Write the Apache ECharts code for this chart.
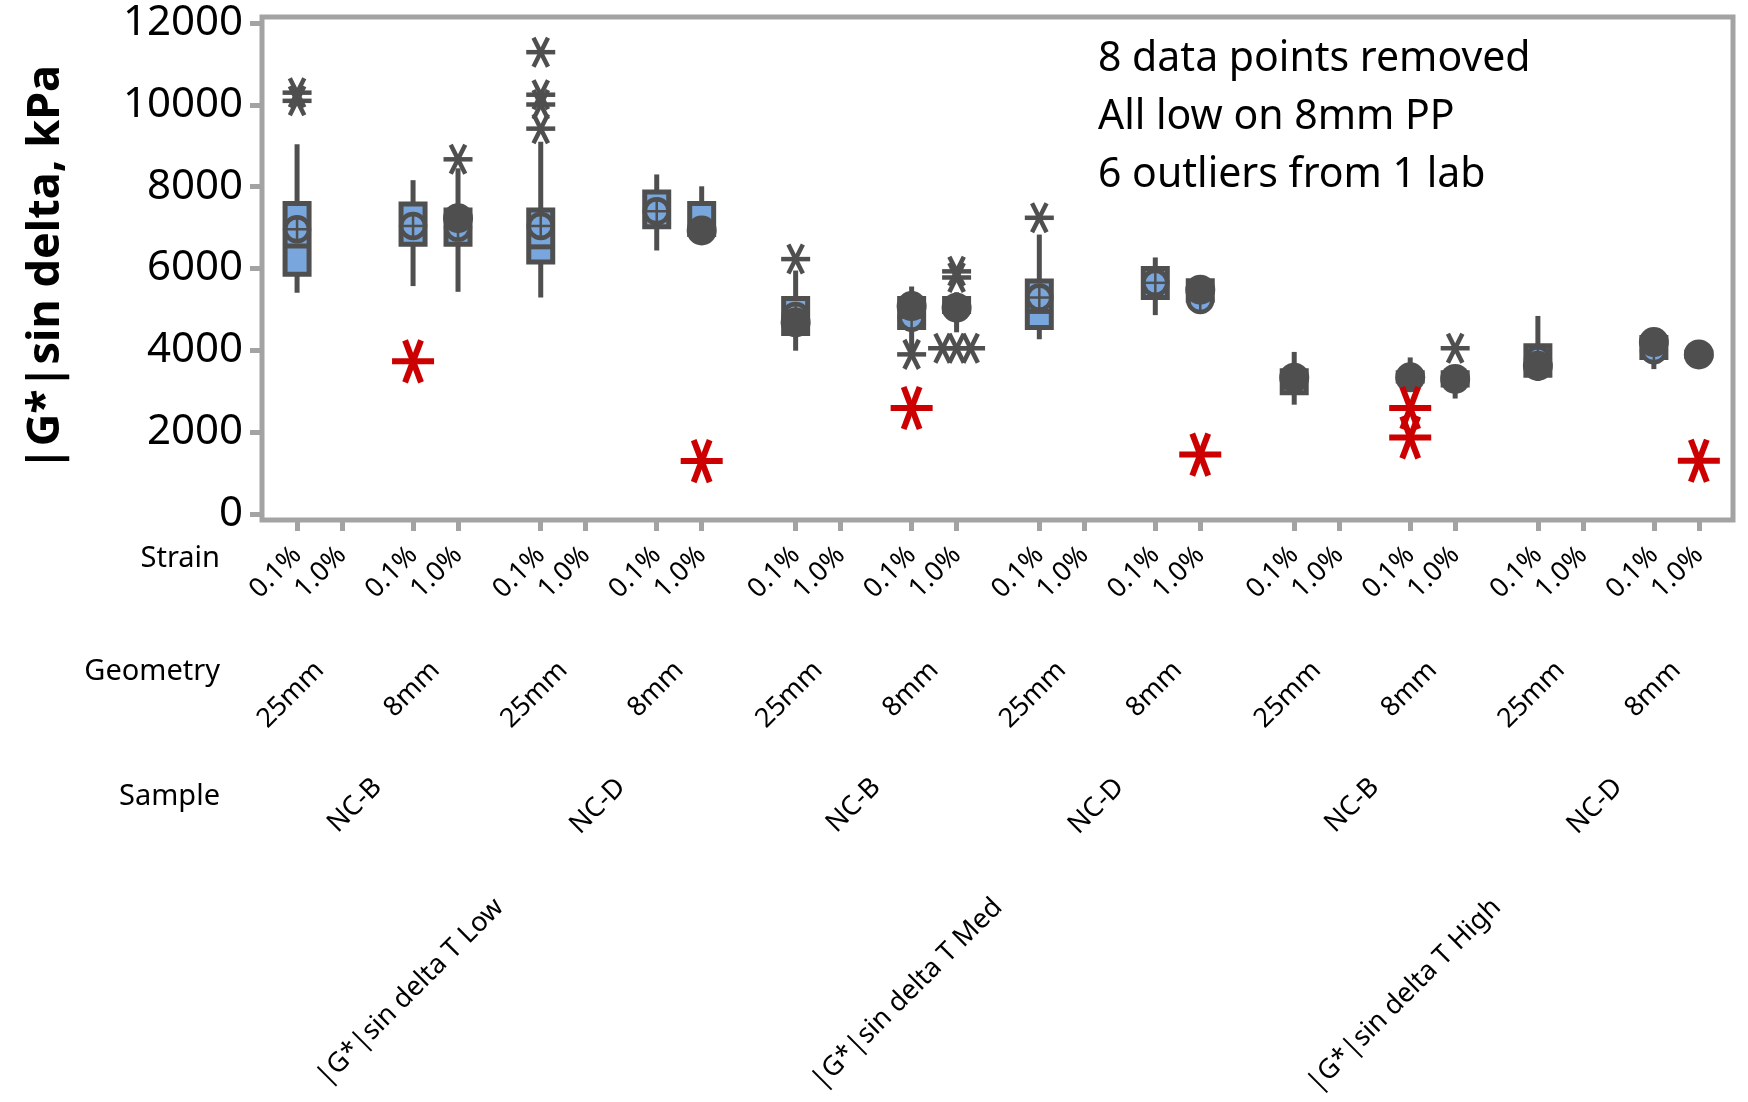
<!DOCTYPE html>
<html>
<head>
<meta charset="utf-8">
<script src="https://cdn.jsdelivr.net/npm/echarts@6/dist/echarts.min.js"></script>
<style>
  html, body { margin: 0; padding: 0; background: #ffffff; }
  #chart { width: 1748px; height: 1102px; }
</style>
</head>
<body>
<div id="chart"></div>
<script>
// ---- factor levels (outermost first) ----
const temperatures = ['|G*|sin delta T Low', '|G*|sin delta T Med', '|G*|sin delta T High'];
const samples = ['NC-B', 'NC-D'];
const geometries = ['25mm', '8mm'];
const strains = ['0.1%', '1.0%'];

const yTicks = [0, 2000, 4000, 6000, 8000, 10000, 12000];

// Box statistics per cell: [low whisker, Q1, median, Q3, high whisker]; null = no data.
// Cell order: temperature > sample > geometry > strain.
const boxStats = [
  [5410, 5860, 6550, 7590, 9040],   // T Low  NC-B 25mm 0.1%
  null,
  [5570, 6590, 7040, 7580, 8160],
  [5430, 6590, 7000, 7430, 8450],
  [5290, 6160, 6530, 7430, 9100],   // T Low  NC-D 25mm 0.1%
  null,
  [6440, 7020, 7400, 7870, 8300],
  [6830, 6830, 6930, 7590, 8010],
  [3990, 4410, 4840, 5265, 5950],   // T Med  NC-B 25mm 0.1%
  null,
  [3950, 4560, 4800, 5265, 5560],
  [4440, 4950, 5100, 5265, 5420],
  [4270, 4560, 4950, 5695, 6830],   // T Med  NC-D 25mm 0.1%
  null,
  [4860, 5290, 5650, 6000, 6270],
  [5230, 5230, 5230, 5700, 5830],
  [2670, 2960, 3300, 3500, 3960],   // T High NC-B 25mm 0.1%
  null,
  [3250, 3250, 3340, 3450, 3825],
  [2820, 3150, 3300, 3450, 3600],
  [3250, 3390, 3550, 4110, 4840],   // T High NC-D 25mm 0.1%
  null,
  [3540, 3825, 4050, 4310, 4310],
  [3850, 3850, 3900, 3950, 3950]
];

// Cell means [cell index, value]
const cellMeans = [
  [0, 6960], [2, 7040], [3, 7000], [4, 7040], [6, 7400], [8, 4840],
  [10, 4800], [12, 5290], [14, 5650], [15, 5230], [20, 3780], [22, 4000]
];

// Clusters of overlapping individual results [cell index, value]
const pointClusters = [
  [3, 7230], [7, 6930], [8, 4680], [10, 5080], [11, 5040], [15, 5480], [16, 3330],
  [18, 3340], [19, 3300], [20, 3620], [22, 4200], [23, 3900]
];

// Outlying results kept in the analysis [cell index, value]
const outliers = [
  [0, 10100], [0, 10300], [3, 8670], [4, 9420], [4, 10010], [4, 10250], [4, 11290],
  [8, 6230], [10, 3900], [11, 5780], [11, 5930], [11, 4050], [11, 4050], [11, 4050],
  [12, 7240], [19, 4050]
];

// Results removed from the analysis [cell index, value]
const removedPoints = [
  [2, 3730], [7, 1290], [10, 2590], [15, 1450], [18, 2590], [18, 1870], [23, 1300]
];

const notes = ['8 data points removed', 'All low on 8mm PP', '6 outliers from 1 lab'];

// ---- layout of the nested category axis ----
const STEP = { strain: 1, geometry: 1.58, sample: 1.84, temperature: 2.09 };
const cells = [];
(function buildCells() {
  let x = 0, prev = null;
  temperatures.forEach((t, ti) => samples.forEach((s, si) => geometries.forEach((g, gi) => strains.forEach((st, sti) => {
    if (prev) {
      if (prev.ti !== ti) x += STEP.temperature;
      else if (prev.si !== si) x += STEP.sample;
      else if (prev.gi !== gi) x += STEP.geometry;
      else x += STEP.strain;
    }
    prev = { ti, si, gi, sti, x };
    cells.push(prev);
  }))));
})();
const cellX = cells.map(c => c.x);

function groupCenters(key, labels) {
  const out = [];
  cells.forEach(c => {
    const id = key(c);
    let grp = out.find(o => o.id === id);
    if (!grp) { grp = { id, lo: c.x, hi: c.x, label: labels(c) }; out.push(grp); }
    grp.hi = c.x;
  });
  return out.map(o => ({ x: (o.lo + o.hi) / 2, label: o.label }));
}
const strainGroups = cells.map(c => ({ x: c.x, label: strains[c.sti] }));
const geometryGroups = groupCenters(c => c.ti + '-' + c.si + '-' + c.gi, c => geometries[c.gi]);
const sampleGroups = groupCenters(c => c.ti + '-' + c.si, c => samples[c.si]);
const temperatureGroups = groupCenters(c => '' + c.ti, c => temperatures[c.ti]);

const X_MIN = -0.78, X_MAX = cellX[cellX.length - 1] + 0.76;

const DARK = '#4f4f4f';
const BLUE = '#79a6dc';
const RED = '#cc0000';
const FRAME = '#a3a3a3';
const FONT = 'Noto Sans';

function nearestLabel(groups, v) {
  let best = groups[0], d = Infinity;
  groups.forEach(g => { const dd = Math.abs(g.x - v); if (dd < d) { d = dd; best = g; } });
  return best.label;
}

// ---- renderers ----
function renderBox(params, api) {
  const x = api.value(0);
  const lo = api.coord([x, api.value(1)]);
  const q1 = api.coord([x, api.value(2)]);
  const md = api.coord([x, api.value(3)]);
  const q3 = api.coord([x, api.value(4)]);
  const hi = api.coord([x, api.value(5)]);
  const cx = lo[0], hw = 12;
  return {
    type: 'group',
    children: [
      { type: 'line', shape: { x1: cx, y1: hi[1], x2: cx, y2: lo[1] }, style: { stroke: DARK, lineWidth: 5 } },
      { type: 'rect', shape: { x: cx - hw, y: q3[1], width: 2 * hw, height: Math.max(q1[1] - q3[1], 0.5) },
        style: { fill: BLUE, stroke: DARK, lineWidth: 5 } },
      { type: 'line', shape: { x1: cx - hw, y1: md[1], x2: cx + hw, y2: md[1] }, style: { stroke: DARK, lineWidth: 5 } }
    ]
  };
}

function renderMean(params, api) {
  const p = api.coord([api.value(0), api.value(1)]);
  const r = 12;
  return {
    type: 'group',
    children: [
      { type: 'circle', shape: { cx: p[0], cy: p[1], r: r }, style: { fill: BLUE, stroke: DARK, lineWidth: 4.5 } },
      { type: 'line', shape: { x1: p[0] - r, y1: p[1], x2: p[0] + r, y2: p[1] }, style: { stroke: DARK, lineWidth: 2.5 } },
      { type: 'line', shape: { x1: p[0], y1: p[1] - r, x2: p[0], y2: p[1] + r }, style: { stroke: DARK, lineWidth: 2.5 } }
    ]
  };
}

function asteriskRenderer(color, size, spread, lw) {
  return function (params, api) {
    const p = api.coord([api.value(0), api.value(1)]);
    const k = api.value(2), n = api.value(3);
    const cx = p[0] + (k - (n - 1) / 2) * 14, cy = p[1];
    const h = size / 2, s = size * spread;
    const st = { stroke: color, lineWidth: lw, lineCap: 'butt' };
    return {
      type: 'group',
      children: [
        { type: 'line', shape: { x1: cx - h, y1: cy, x2: cx + h, y2: cy }, style: st },
        { type: 'line', shape: { x1: cx - s, y1: cy - h, x2: cx + s, y2: cy + h }, style: st },
        { type: 'line', shape: { x1: cx + s, y1: cy - h, x2: cx - s, y2: cy + h }, style: st }
      ]
    };
  };
}

// identical values in one cell are spread sideways
function withSpread(list) {
  return list.map((o, i) => {
    const same = list.filter(q => q[0] === o[0] && q[1] === o[1]);
    const k = list.slice(0, i).filter(q => q[0] === o[0] && q[1] === o[1]).length;
    return [cellX[o[0]], o[1], k, same.length];
  });
}

const boxData = [];
boxStats.forEach((b, i) => { if (b) boxData.push([cellX[i]].concat(b)); });

const hierarchyAxis = (offset, groups) => ({
  type: 'value', gridIndex: 0, position: 'bottom', offset: offset,
  min: X_MIN, max: X_MAX,
  axisLine: { show: false, onZero: false }, axisTick: { show: false }, splitLine: { show: false },
  axisLabel: {
    customValues: groups.map(g => g.x), rotate: 45, margin: 38,
    fontFamily: FONT, fontSize: 27, color: '#000',
    formatter: v => nearestLabel(groups, v)
  }
});

const chart = echarts.init(document.getElementById('chart'), null, { renderer: 'canvas' });
chart.setOption({
  animation: false,
  backgroundColor: '#ffffff',
  grid: { left: 262, right: 15, top: 17, bottom: 582, show: true, borderColor: FRAME, borderWidth: 5, backgroundColor: 'transparent' },
  xAxis: [
    {
      type: 'value', gridIndex: 0, position: 'bottom', min: X_MIN, max: X_MAX,
      axisLine: { show: false, onZero: false }, splitLine: { show: false },
      axisTick: { show: true, inside: false, length: 11, customValues: cellX, lineStyle: { color: FRAME, width: 5 } },
      axisLabel: {
        customValues: cellX, rotate: 45, margin: 31,
        fontFamily: FONT, fontSize: 27, color: '#000',
        formatter: v => nearestLabel(strainGroups, v)
      }
    },
    hierarchyAxis(108, geometryGroups),
    hierarchyAxis(225, sampleGroups),
    hierarchyAxis(345, temperatureGroups)
  ],
  yAxis: {
    type: 'value', min: -150, max: 12150,
    axisLine: { show: false, onZero: false }, splitLine: { show: false },
    axisTick: { show: true, inside: false, length: 12, customValues: yTicks, lineStyle: { color: FRAME, width: 5 } },
    axisLabel: { customValues: yTicks, margin: 19, padding: [13, 0, 0, 0], fontFamily: FONT, fontSize: 42, color: '#000',
      formatter: v => String(v) }
  },
  graphic: [
    { type: 'text', x: 46, y: 268, rotation: Math.PI / 2,
      style: { text: '|G*|sin delta, kPa', fontFamily: FONT, fontWeight: 'bold', fontSize: 45, fill: '#000', align: 'center', verticalAlign: 'middle' } },
    { type: 'text', x: 220, y: 559, style: { text: 'Strain', fontFamily: FONT, fontSize: 29, fill: '#000', align: 'right', verticalAlign: 'middle' } },
    { type: 'text', x: 220, y: 672, style: { text: 'Geometry', fontFamily: FONT, fontSize: 29, fill: '#000', align: 'right', verticalAlign: 'middle' } },
    { type: 'text', x: 220, y: 797, style: { text: 'Sample', fontFamily: FONT, fontSize: 29, fill: '#000', align: 'right', verticalAlign: 'middle' } }
  ].concat(notes.map((t, i) => ({
    type: 'text', x: 1098, y: 59 + i * 58,
    style: { text: t, fontFamily: FONT, fontSize: 41, fill: '#000', align: 'left', verticalAlign: 'middle' }
  }))),
  series: [
    { type: 'custom', name: 'box', z: 2, renderItem: renderBox, data: boxData, encode: { x: 0, y: [1, 2, 3, 4, 5] } },
    { type: 'custom', name: 'mean', z: 3, renderItem: renderMean, data: cellMeans.map(m => [cellX[m[0]], m[1]]), encode: { x: 0, y: 1 } },
    { type: 'scatter', name: 'points', z: 4, symbol: 'circle', symbolSize: 30, itemStyle: { color: DARK, opacity: 1 },
      data: pointClusters.map(p => [cellX[p[0]], p[1]]) },
    { type: 'custom', name: 'outliers', z: 5, renderItem: asteriskRenderer(DARK, 29, 0.25, 4.5),
      data: withSpread(outliers), encode: { x: 0, y: 1 } },
    { type: 'custom', name: 'removed', z: 6, renderItem: asteriskRenderer(RED, 42, 0.19, 6),
      data: withSpread(removedPoints), encode: { x: 0, y: 1 } }
  ]
});
</script>
</body>
</html>
